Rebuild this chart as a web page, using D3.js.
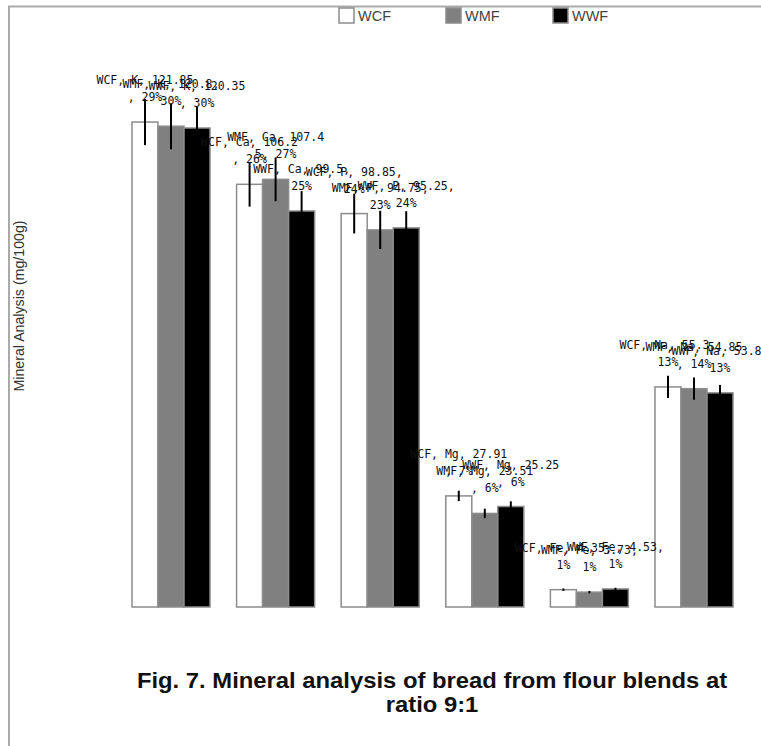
<!DOCTYPE html>
<html>
<head>
<meta charset="utf-8">
<script src="https://cdn.jsdelivr.net/npm/d3@7"></script>
<style>
  body { margin: 0; background: #fff; }
</style>
</head>
<body>
<script>
// chart values
var minerals = ["K", "Ca", "P", "Mg", "Fe", "Na"];
var series = ["WCF", "WMF", "WWF"];
var wcf = [121.85, 106.2, 98.85, 27.91, 4.35, 55.3];
var wmf = [120.8, 107.45, 94.75, 23.51, 3.73, 54.85];
var wwf = [120.35, 99.5, 95.25, 25.25, 4.53, 53.8];
var wcfErr = [5.8, 5.6, 5.0, 1.3, 0.3, 2.8];
var wmfErr = [5.8, 5.5, 4.8, 1.2, 0.3, 2.8];
var wwfErr = [5.3, 5.0, 4.2, 1.3, 0.3, 2.0];

var width = 761, height = 746;
var colors = {WCF: "#ffffff", WMF: "#808080", WWF: "#000000"};
var values = {WCF: wcf, WMF: wmf, WWF: wwf};
var errors = {WCF: wcfErr, WMF: wmfErr, WWF: wwfErr};

var svg = d3.select("body").append("svg")
    .attr("width", width)
    .attr("height", height);

// frame (only top and left edges are visible)
svg.append("path")
    .attr("d", "M9,746 L9,6.5 L761,6.5")
    .attr("fill", "none")
    .attr("stroke", "#aaa")
    .attr("stroke-width", 2);

var x0 = d3.scaleBand()
    .domain(minerals)
    .range([118.7, 746.3])
    .paddingInner(0.254)
    .paddingOuter(0.127);

var x1 = d3.scaleBand()
    .domain(series)
    .range([0, x0.bandwidth()]);

var y = d3.scaleLinear()
    .domain([0, 150])
    .range([607, 10]);

// flatten for drawing
var rows = [];
series.forEach(function(s) {
    var total = d3.sum(values[s]);
    minerals.forEach(function(m, i) {
        rows.push({s: s, m: m, v: values[s][i], e: errors[s][i],
                   pct: Math.round(values[s][i] / total * 100)});
    });
});

svg.append("g").selectAll("rect")
    .data(rows)
    .enter().append("rect")
    .attr("x", function(d) { return x0(d.m) + x1(d.s); })
    .attr("y", function(d) { return y(d.v); })
    .attr("width", x1.bandwidth())
    .attr("height", function(d) { return y(0) - y(d.v); })
    .attr("fill", function(d) { return colors[d.s]; })
    .attr("stroke", "#8c8c8c")
    .attr("stroke-width", 1.5);

// error bars, no caps
svg.append("g").selectAll("line")
    .data(rows)
    .enter().append("line")
    .attr("x1", function(d) { return x0(d.m) + x1(d.s) + x1.bandwidth() / 2; })
    .attr("x2", function(d) { return x0(d.m) + x1(d.s) + x1.bandwidth() / 2; })
    .attr("y1", function(d) { return y(d.v + d.e); })
    .attr("y2", function(d) { return y(d.v - d.e); })
    .attr("stroke", "#000")
    .attr("stroke-width", 2);

// data labels: "WCF, K, 121.85, 29%" wrapped every 14 characters
function wrapLabel(str) {
    var lines = [];
    for (var i = 0; i < str.length; i += 14) lines.push(str.slice(i, i + 14).trim());
    return lines;
}

var lineH = 17;
var labels = svg.append("g").selectAll("text")
    .data(rows)
    .enter().append("text")
    .attr("text-anchor", "middle")
    .style("font-family", "'DejaVu Sans Mono', monospace")
    .style("font-size", "11.5px")
    .style("fill", "#111");

labels.each(function(d) {
    var lines = wrapLabel(d.s + ", " + d.m + ", " + d.v + ", " + d.pct + "%");
    var cx = x0(d.m) + x1(d.s) + x1.bandwidth() / 2;
    var bottom = y(d.v) - 21;
    var t = d3.select(this);
    lines.forEach(function(l, k) {
        t.append("tspan")
            .attr("x", cx)
            .attr("y", bottom - (lines.length - 1 - k) * lineH)
            .text(l);
    });
});

// legend
var legend = svg.append("g").selectAll("g")
    .data(series)
    .enter().append("g")
    .attr("transform", function(d, i) { return "translate(" + (339 + i * 107) + ",8)"; });

legend.append("rect")
    .attr("width", 15)
    .attr("height", 15)
    .attr("fill", function(d) { return colors[d]; })
    .attr("stroke", "#8c8c8c")
    .attr("stroke-width", 1.5);

legend.append("text")
    .attr("x", 19)
    .attr("y", 13)
    .text(function(d) { return d; })
    .style("font-family", "'Liberation Sans', Arial, sans-serif")
    .style("font-size", "14.5px")
    .style("fill", "#444");

// y axis title
svg.append("text")
    .attr("transform", "translate(24,306) rotate(-90)")
    .attr("text-anchor", "middle")
    .text("Mineral Analysis (mg/100g)")
    .style("font-family", "'Liberation Sans', Arial, sans-serif")
    .style("font-size", "14.2px")
    .style("fill", "#333");

// caption, slightly stretched horizontally like the original
var title = svg.append("g")
    .attr("transform", "translate(432,0) scale(1.083,1)")
    .append("text")
    .attr("text-anchor", "middle")
    .style("font-family", "'Liberation Sans', Arial, sans-serif")
    .style("font-size", "22px")
    .style("font-weight", "bold")
    .style("fill", "#111");
title.append("tspan").attr("x", 0).attr("y", 688)
    .text("Fig. 7. Mineral analysis of bread from flour blends at");
title.append("tspan").attr("x", 0).attr("y", 712)
    .text("ratio 9:1");
</script>
</body>
</html>
